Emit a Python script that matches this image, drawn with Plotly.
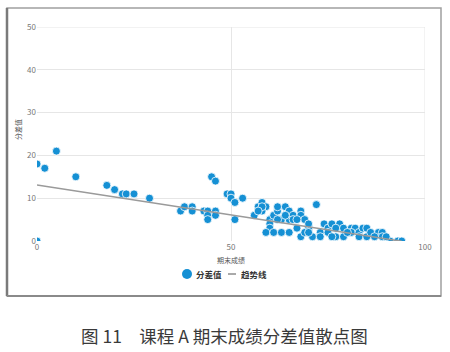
import plotly.graph_objects as go

# Scatter data: 期末成绩 (x) vs 分差值 (y)
score = [0, 0, 2, 5, 10, 18, 20, 22, 23, 25, 29,
         37, 38, 40, 40, 43, 44, 44, 44, 46, 46, 45, 46,
         49, 50, 50, 51, 53, 51,
         56, 57, 58, 59, 58, 58, 57,
         60, 60, 60, 59, 61, 63, 65,
         61, 62, 62, 64, 63, 65, 65, 66, 66, 68, 68, 69, 67, 68, 70, 71, 72, 70, 73, 74, 75, 75, 76,
         62, 64, 67, 69, 70, 73,
         78, 77, 79, 77, 79, 81, 82, 81, 83, 83, 85, 84, 85, 86, 88, 89, 89, 87, 91, 93, 94, 90, 80, 76]
diff = [0, 18, 17, 21, 15, 13, 12, 11, 11, 11, 10,
        7, 8, 8, 7, 7, 7, 6, 5, 7, 6, 15, 14,
        11, 11, 10, 9, 10, 5,
        6, 8, 9, 8, 7, 8, 7,
        5, 4, 3, 2, 2, 2, 2,
        6, 7, 8, 8, 5, 7, 5, 6, 5, 7, 6, 5, 3, 1, 3, 1, 8.5, 4, 2, 4, 3, 2, 4,
        5, 6, 5, 2, 2, 1,
        4, 3, 3, 1, 1, 3, 3, 2, 2, 1, 1, 3, 3, 2, 2, 2, 1, 1, 0, 0, 0, 1, 2, 1]

# Trend line endpoints
trend_x = [0, 94]
trend_y = [13.1, -0.06]

x_ticks = [0, 50, 100]
y_ticks = [0, 10, 20, 30, 40, 50]

FONT = "Noto Sans CJK SC"
DOT = "#1590d4"
TREND = "#9a9a9a"

fig = go.Figure()
fig.add_trace(go.Scatter(
    x=score, y=diff, mode="markers", name="分差值",
    marker=dict(size=8, color=DOT, line=dict(color="white", width=0.8)),
))
fig.add_trace(go.Scatter(
    x=trend_x, y=trend_y, mode="lines", name="趋势线",
    line=dict(color=TREND, width=1.5),
))

W, H = 450, 352
L, R, T, B = 37, 25, 27, 111
pw, ph = W - L - R, H - T - B

def px(xp):
    return (xp - L) / pw

def py(yp):
    return (H - B - yp) / ph

fig.update_layout(
    width=W, height=H,
    margin=dict(l=L, r=R, t=T, b=B),
    paper_bgcolor="white", plot_bgcolor="white",
    font=dict(family=FONT, color="#666"),
    showlegend=False,
    xaxis=dict(range=[0, 100], tickvals=x_ticks, showgrid=True, gridcolor="#e6e6e6",
               gridwidth=1, zeroline=False, showline=False,
               tickfont=dict(size=8, color="#777"), ticks="", ticklen=0),
    yaxis=dict(range=[0, 50], tickvals=y_ticks, showgrid=True, gridcolor="#e6e6e6",
               gridwidth=1, zeroline=False, showline=False,
               tickfont=dict(size=8, color="#777"), ticks="", ticklen=0),
    shapes=[
        # outer chart panel frame
        dict(type="rect", xref="paper", yref="paper",
             x0=px(7), x1=px(441), y0=py(296), y1=py(8),
             line=dict(color="#a0a0a0", width=1.5), layer="below"),
        dict(type="line", xref="paper", yref="paper",
             x0=px(7), x1=px(7), y0=py(296), y1=py(8),
             line=dict(color="#7a7a7a", width=2.5)),
        dict(type="line", xref="paper", yref="paper",
             x0=px(7), x1=px(441), y0=py(296), y1=py(296),
             line=dict(color="#8a8a8a", width=2)),
        # right plot edge at x=100 and top at y=50
        dict(type="line", xref="x", yref="paper", x0=100, x1=100, y0=0, y1=1,
             line=dict(color="#e6e6e6", width=1), layer="below"),
        dict(type="line", xref="paper", yref="y", x0=0, x1=1, y0=50, y1=50,
             line=dict(color="#e6e6e6", width=1), layer="below"),
        # legend symbols
        dict(type="circle", xref="paper", yref="paper",
             x0=px(182), x1=px(192), y0=py(279), y1=py(269),
             fillcolor=DOT, line=dict(color=DOT, width=0)),
        dict(type="line", xref="paper", yref="paper",
             x0=px(228), x1=px(236), y0=py(274), y1=py(274),
             line=dict(color="#555", width=1)),
    ],
    annotations=[
        dict(text="分差值", xref="paper", yref="paper", x=px(18), y=py(130),
             textangle=-90, showarrow=False, font=dict(size=7, color="#555", family=FONT),
             xanchor="center", yanchor="middle"),
        dict(text="期末成绩", xref="paper", yref="paper", x=px(231), y=py(260),
             showarrow=False, font=dict(size=7, color="#555", family=FONT),
             xanchor="center", yanchor="middle"),
        dict(text="<b>分差值</b>", xref="paper", yref="paper", x=px(194), y=py(274),
             showarrow=False, font=dict(size=8.5, color="#333", family=FONT),
             xanchor="left", yanchor="middle"),
        dict(text="<b>趋势线</b>", xref="paper", yref="paper", x=px(239), y=py(274),
             showarrow=False, font=dict(size=8.5, color="#333", family=FONT),
             xanchor="left", yanchor="middle"),
        dict(text="图 11　课程 A 期末成绩分差值散点图", xref="paper", yref="paper",
             x=px(224), y=py(335), showarrow=False,
             font=dict(size=17.5, color="#3a3a3a", family=FONT),
             xanchor="center", yanchor="middle"),
    ],
)

fig.write_html("out.html")
